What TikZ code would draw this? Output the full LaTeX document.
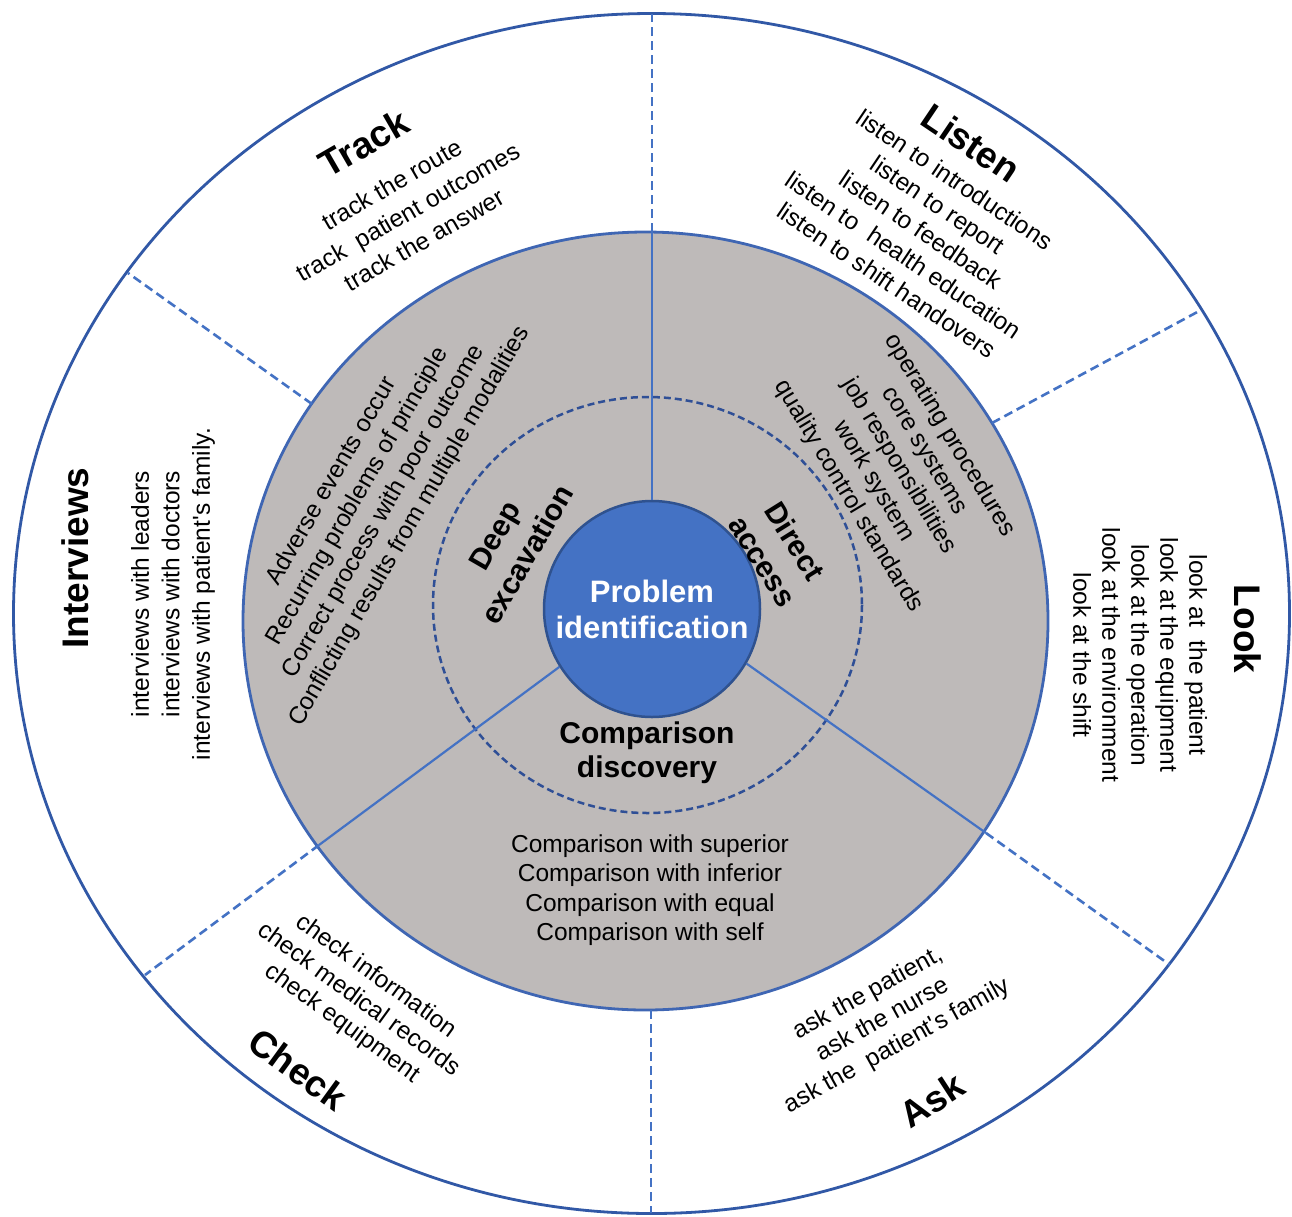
\documentclass[tikz,border=0pt]{standalone}
\usepackage{fontspec}
\setmainfont{Liberation Sans}
\definecolor{outerblue}{HTML}{3158A6}
\definecolor{blueline}{HTML}{4472C4}
\definecolor{grayfill}{HTML}{BEBAB9}
\definecolor{grayedge}{HTML}{3F66B3}
\definecolor{dashcirc}{HTML}{2F4F96}
\definecolor{pcblue}{HTML}{4472C4}
\definecolor{pcborder}{HTML}{2F528F}
\begin{document}
\begin{tikzpicture}[x=1pt,y=-1pt,
  body/.style={font=\fontsize{24.5}{30}\selectfont, align=center, inner sep=0pt},
  ttl/.style={font=\fontsize{37}{40}\selectfont\bfseries, inner sep=0pt},
  innerlbl/.style={font=\fontsize{30}{38}\selectfont\bfseries, align=center, inner sep=0pt},
  rad/.style={draw=blueline, line width=2.2pt},
  raddash/.style={draw=blueline, line width=2.6pt, dash pattern=on 9pt off 5pt},
]
\useasboundingbox (0,0) rectangle (1292,1216);
\fill[white] (0,0) rectangle (1292,1216);

% rings
\draw[draw=outerblue, line width=2.8pt, fill=white] (651.5,613.5) ellipse [x radius=638, y radius=600];
\draw[draw=grayedge, line width=2.8pt, fill=grayfill] (645.5,621) ellipse [x radius=402.5, y radius=389];
\draw[draw=dashcirc, line width=2.5pt, dash pattern=on 7pt off 4pt] (647.5,605) ellipse [x radius=214.5, y radius=208];

% end points of the dividers
\coordinate (gT) at (652,232);   \coordinate (oT) at (652,14);
\coordinate (gB) at (651,1010);  \coordinate (oB) at (651,1213);
\coordinate (gLL) at (319,845);  \coordinate (oLL) at (145,975);
\coordinate (gLR) at (986,833);  \coordinate (oLR) at (1170,965);
\coordinate (gUL) at (312,404);  \coordinate (oUL) at (128,273);
\coordinate (gUR) at (992,423);  \coordinate (oUR) at (1201,310);

% centre
\node[circle, minimum size=216pt, inner sep=0pt, fill=pcblue, draw=pcborder, line width=2.5pt,
      text=white, align=center, font=\fontsize{31}{36}\selectfont\bfseries] (pc) at (652,609)
      {Problem\\identification};

% dividers
\draw[rad] (pc.north) -- (gT);
\draw[rad] (pc.212) -- (gLL);
\draw[rad] (pc.330) -- (gLR);
\draw[raddash] (gT) -- (oT);
\draw[raddash] (gB) -- (oB);
\draw[raddash] (gLL) -- (oLL);
\draw[raddash] (gLR) -- (oLR);
\draw[raddash] (gUL) -- (oUL);
\draw[raddash] (gUR) -- (oUR);

% outer ring texts
\node[ttl, rotate=30] (trackT) at (364,143) {Track};
\node[body, font=\fontsize{24.5}{32}\selectfont, rotate=30] (trackL) at (408,212)
  {track the route\\track\ \ patient outcomes\\track the answer};

\node[ttl, rotate=-34] (listenT) at (971,143) {Listen};
\node[body, font=\fontsize{24.5}{30.5}\selectfont, rotate=-34] (listenL) at (921,230)
  {listen to introductions\\listen to report\\listen to feedback\\listen to\ \ health education\\listen to shift handovers};

\node[ttl, rotate=-90] (lookT) at (1248,629) {Look};
\node[body, font=\fontsize{24.5}{29}\selectfont, rotate=-90] (lookL) at (1140,655)
  {look at\ \ the patient\\look at the equipment\\look at the operation\\look at the environment\\look at the shift};

\node[ttl, rotate=33] (askT) at (932,1100) {Ask};
\node[body, rotate=29] (askL) at (883,1020)
  {ask the patient,\\ask the nurse\\ask the\ \ patient\textquotesingle s family};

\node[ttl, rotate=-36] (checkT) at (298,1069) {Check};
\node[body, font=\fontsize{24.5}{29}\selectfont, rotate=-36] (checkL) at (359,1000)
  {check information\\check medical records\\check equipment};

\node[ttl, rotate=90] (intT) at (75,558) {Interviews};
\node[body, font=\fontsize{24.5}{30.5}\selectfont, rotate=90] (intL) at (173,594)
  {interviews with leaders\\interviews with doctors\\interviews with patient\textquotesingle s family.};

% gray ring texts
\node[body, rotate=60] (deepL) at (371,504)
  {Adverse events occur\\Recurring problems of principle\\Correct process with poor outcome\\Conflicting results from multiple modalities};
\node[body, font=\fontsize{24.5}{29.5}\selectfont, rotate=-59] (directL) at (899,466)
  {operating procedures\\core systems\\job responsibilities\\work system\\quality control standards};
\node[body, font=\fontsize{24.5}{29.5}\selectfont] (compL) at (650,890)
  {Comparison with superior\\Comparison with inferior\\Comparison with equal\\Comparison with self};

% inner labels
\node[innerlbl, rotate=60] (deepT) at (511,545) {Deep\\excavation};
\node[innerlbl, rotate=-58] (directT) at (779,551) {Direct\\access};
\node[innerlbl, font=\fontsize{30}{34}\selectfont\bfseries] (compT) at (647,753) {Comparison\\discovery};
\end{tikzpicture}
\end{document}
